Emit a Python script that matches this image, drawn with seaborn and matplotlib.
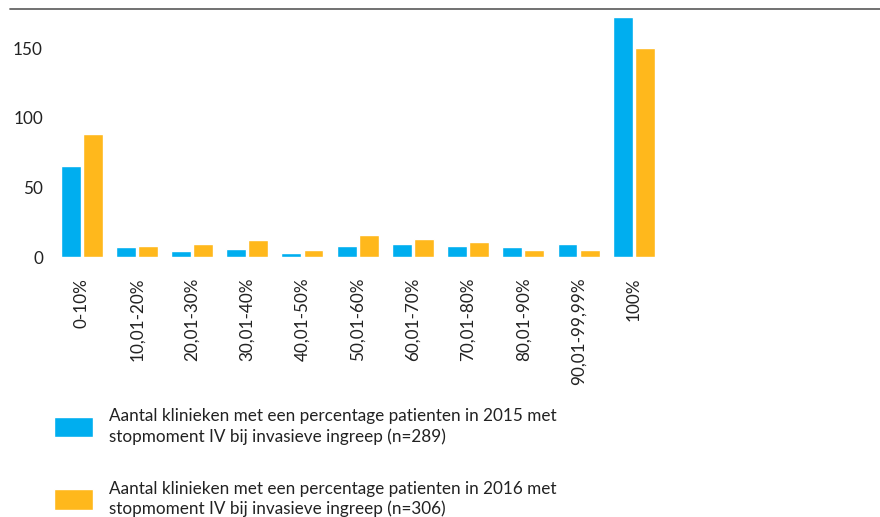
import matplotlib
matplotlib.use("Agg")
import matplotlib.pyplot as plt
from matplotlib.lines import Line2D
import seaborn as sns
import pandas as pd

categories = ["0-10%", "10,01-20%", "20,01-30%", "30,01-40%", "40,01-50%",
              "50,01-60%", "60,01-70%", "70,01-80%", "80,01-90%",
              "90,01-99,99%", "100%"]
values_2015 = [65, 7, 4, 6, 3, 8, 9, 8, 7, 9, 172]
values_2016 = [88, 8, 9, 12, 5, 16, 13, 11, 5, 5, 150]
series_names = [
    "Aantal klinieken met een percentage patienten in 2015 met\nstopmoment IV bij invasieve ingreep (n=289)",
    "Aantal klinieken met een percentage patienten in 2016 met\nstopmoment IV bij invasieve ingreep (n=306)",
]
y_ticks = [0, 50, 100, 150]

df = pd.DataFrame({
    "cat": categories * 2,
    "val": values_2015 + values_2016,
    "series": [series_names[0]] * len(categories) + [series_names[1]] * len(categories),
})

sns.set_theme(style="white")
plt.rcParams['font.family'] = ['Lato', 'DejaVu Sans']

W, H = 880, 517
fig = plt.figure(figsize=(W / 100, H / 100), dpi=100)
ax_left, ax_right, ax_top, ax_bottom = 54, 880, 9, 257
ax = fig.add_axes([ax_left / W, 1 - ax_bottom / H, (ax_right - ax_left) / W, (ax_bottom - ax_top) / H])

palette = ["#00AEEF", "#FFB81C"]
sns.barplot(data=df, x="cat", y="val", hue="series", order=categories,
            hue_order=series_names, palette=palette, width=0.8, gap=0.1,
            saturation=1, ax=ax, legend=True)

fs = 12.3
ax.set_xlim(-0.5, 14.46)
ax.set_ylim(0, 178)
ax.set_yticks(y_ticks)
ax.set_yticklabels([str(t) for t in y_ticks], fontsize=fs, color="#222222")
ax.set_xticks(range(len(categories)))
ax.set_xticklabels(categories, rotation=90, fontsize=fs, color="#222222", va="top")
ax.tick_params(axis="both", length=0)
ax.tick_params(axis="y", pad=8)
ax.tick_params(axis="x", pad=15)
ax.set_xlabel("")
ax.set_ylabel("")
for s in ax.spines.values():
    s.set_visible(False)

# top rule
fig.add_artist(Line2D([10 / W, 1.0], [1 - 9 / H, 1 - 9 / H], color="#666666", lw=1.3))

handles, labels = ax.get_legend_handles_labels()
ax.legend_.remove()
px = fs * 100 / 72
leg = fig.legend(handles, labels, loc="upper left",
                 bbox_to_anchor=(54 / W, 1 - 408 / H), bbox_transform=fig.transFigure,
                 frameon=False, fontsize=fs, borderpad=0, borderaxespad=0,
                 handlelength=39 / px, handleheight=25 / px, handletextpad=16 / px,
                 labelspacing=2.1, labelcolor="#222222")
for t in leg.get_texts():
    t.set_linespacing(1.3)

fig.savefig("out.png", dpi=100)
